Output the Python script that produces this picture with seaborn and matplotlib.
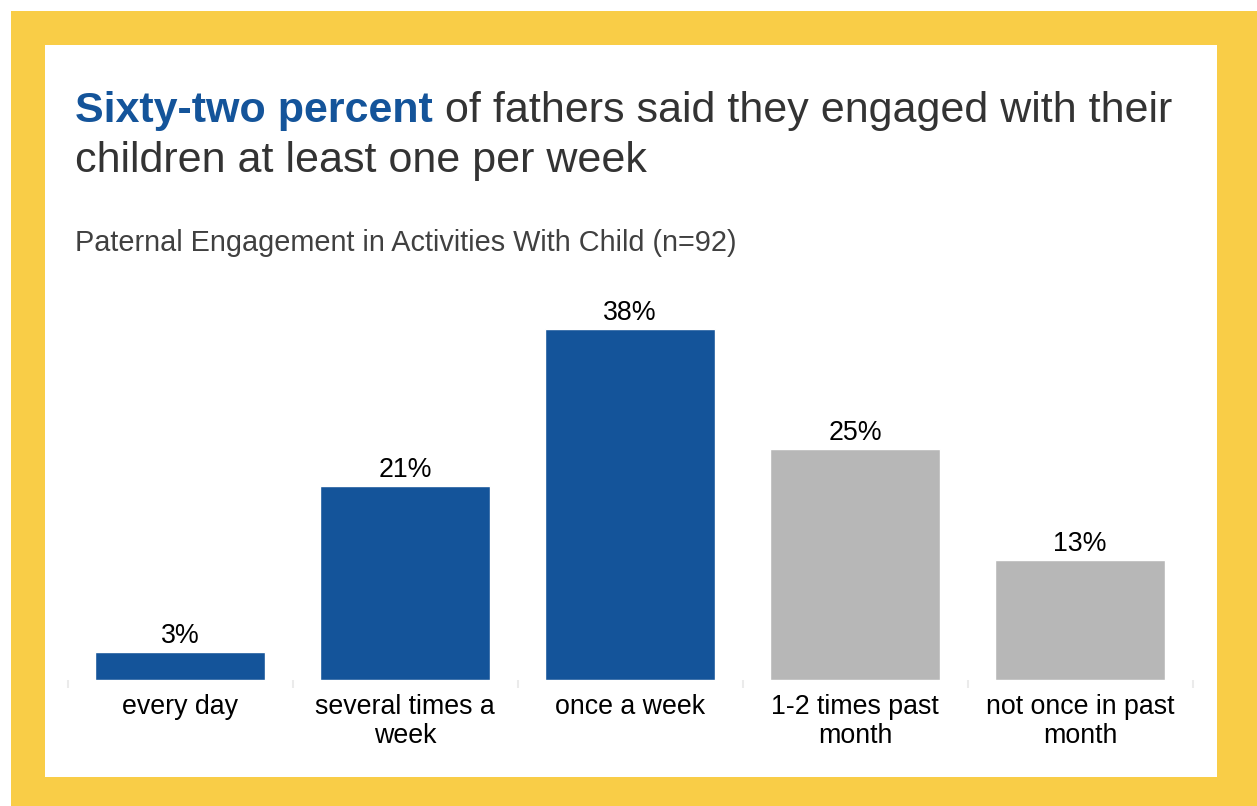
import matplotlib
matplotlib.use("Agg")
import matplotlib.pyplot as plt
from matplotlib.patches import Rectangle
import seaborn as sns
import numpy as np

categories = ["every day", "several times a\nweek", "once a week",
              "1-2 times past\nmonth", "not once in past\nmonth"]
values = [3, 21, 38, 25, 13]
bar_colors = ["#14549A", "#14549A", "#14549A", "#B7B7B7", "#B7B7B7"]
value_labels = ["3%", "21%", "38%", "25%", "13%"]

title_bold = "Sixty-two percent"
title_rest = " of fathers said they engaged with their"
title_line2 = "children at least one per week"
subtitle = "Paternal Engagement in Activities With Child (n=92)"

sns.set_theme(style="white")
plt.rcParams["font.family"] = ["Liberation Sans", "DejaVu Sans"]

W, H = 1257, 806
fig = plt.figure(figsize=(W / 100, H / 100), dpi=100)
fig.patch.set_facecolor("white")

# yellow frame and white panel
fig.patches.append(Rectangle((11 / W, 0), 1 - 11 / W, 1 - 11 / H, transform=fig.transFigure,
                             facecolor="#F9CD47", edgecolor="none", zorder=-2))
fig.patches.append(Rectangle((45 / W, (H - 777) / H), (1217 - 45) / W, (777 - 45) / H,
                             transform=fig.transFigure, facecolor="white", edgecolor="none", zorder=-1))

ax = fig.add_axes([67.5 / W, (H - 680) / H, (1192.5 - 67.5) / W, (680 - 310) / H])
ax.set_facecolor("none")
ax.set_zorder(1)

sns.barplot(x=categories, y=values, hue=categories, palette=bar_colors, legend=False,
            width=0.756, ax=ax, saturation=1)

ax.set_xlim(-0.5, 4.5)
ax.set_ylim(0, 40)
for i, (v, lab) in enumerate(zip(values, value_labels)):
    ax.annotate(lab, xy=(i, v), xytext=(0, 2), textcoords="offset points",
                ha="center", va="bottom", fontsize=19.3, color="#000000", annotation_clip=False)

for s in ax.spines.values():
    s.set_visible(False)
ax.set_yticks([])
ax.set_xlabel("")
ax.set_ylabel("")
ax.set_xticks(range(len(categories)))
ax.set_xticklabels(categories, fontsize=19.3, color="#000000", linespacing=1.15)
ax.tick_params(axis="x", which="major", length=0, pad=10)
ax.set_xticks(np.arange(-0.5, len(categories), 1), minor=True)
ax.tick_params(axis="x", which="minor", length=6, width=1.5, color="#EBEBEB", bottom=True)

# title
t1 = fig.text(75 / W, (H - 122) / H, title_bold, fontsize=31, fontweight="bold",
              color="#14549A", va="baseline", ha="left")
fig.canvas.draw()
bb = t1.get_window_extent()
fig.text(bb.x1 / W, (H - 122) / H, title_rest, fontsize=31, color="#333333",
         va="baseline", ha="left")
fig.text(75 / W, (H - 172) / H, title_line2, fontsize=31, color="#333333",
         va="baseline", ha="left")
fig.text(75 / W, (H - 251) / H, subtitle, fontsize=20.75, color="#404040",
         va="baseline", ha="left")

fig.savefig("out.png", dpi=100, facecolor=fig.get_facecolor())
